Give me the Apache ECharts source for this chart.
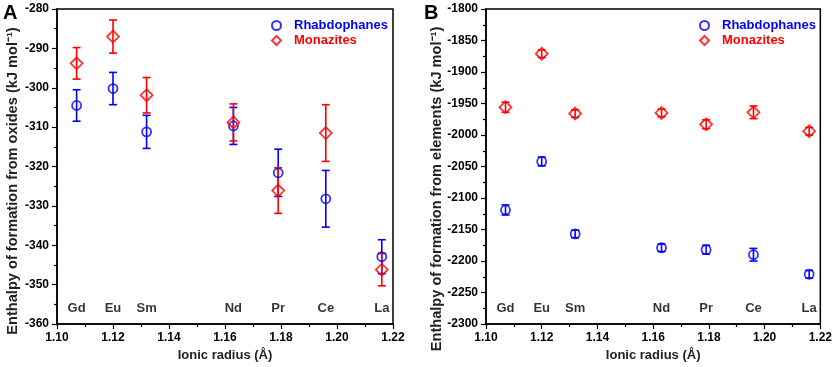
<!DOCTYPE html>
<html>
<head>
<meta charset="utf-8">
<script src="https://cdn.jsdelivr.net/npm/echarts@6/dist/echarts.min.js"></script>
<style>
  html, body { margin: 0; padding: 0; background: #fff; }
  #chart { width: 835px; height: 367px; }
</style>
</head>
<body>
<div id="chart"></div>
<script>
// Ionic radius (Å) and the lanthanide for each point
const elements = ['Gd', 'Eu', 'Sm', 'Nd', 'Pr', 'Ce', 'La'];
const radii = [1.107, 1.120, 1.132, 1.163, 1.179, 1.196, 1.216];

// Panel A: enthalpy of formation from oxides
const rhabOxides = [-304.5, -300.2, -311.2, -309.7, -321.6, -328.2, -342.9];
const rhabOxidesErr = [4.0, 4.1, 4.2, 4.7, 6.0, 7.2, 4.3];
const monOxides = [-293.8, -287.0, -301.9, -308.8, -326.1, -311.5, -346.2];
const monOxidesErr = [4.0, 4.2, 4.5, 4.7, 5.8, 7.2, 4.1];

// Panel B: enthalpy of formation from elements
const rhabElements = [-2119, -2042, -2157, -2179, -2182, -2190, -2221];
const rhabElementsErr = [8, 7, 6, 6, 7, 10, 6];
const monElements = [-1956, -1871, -1966, -1965, -1983, -1964, -1994];
const monElementsErr = [8, 6, 6, 6, 7, 10, 6];

// tick labels
const xTicks = [1.10, 1.12, 1.14, 1.16, 1.18, 1.20, 1.22];

const BLUE = '#0000ff';
const RED = '#ff0000';
const FONT = '"Liberation Sans", Arial, sans-serif';

const chart = echarts.init(document.getElementById('chart'));

const pts = (vals) => vals.map((v, i) => [radii[i], v]);
const bars = (vals, err) => vals.map((v, i) => [radii[i], v - err[i], v + err[i]]);
const names = (level) => elements.map((el, i) => ({ value: [radii[i], level], name: el }));

// vertical error bar with caps
const renderErr = (params, api) => {
  const x = api.value(0);
  const lo = api.coord([x, api.value(1)]);
  const hi = api.coord([x, api.value(2)]);
  const cap = 4;
  const style = { stroke: api.visual('color'), lineWidth: 1.6 };
  return {
    type: 'group',
    children: [
      { type: 'line', shape: { x1: lo[0], y1: lo[1], x2: hi[0], y2: hi[1] }, style },
      { type: 'line', shape: { x1: lo[0] - cap, y1: lo[1], x2: lo[0] + cap, y2: lo[1] }, style },
      { type: 'line', shape: { x1: hi[0] - cap, y1: hi[1], x2: hi[0] + cap, y2: hi[1] }, style },
    ],
  };
};

const xAxisFor = (gridIndex) => ({
  type: 'value',
  gridIndex,
  min: 1.10,
  max: 1.22,
  interval: 0.02,
  name: 'Ionic radius (Å)',
  nameLocation: 'middle',
  nameGap: 24,
  nameTextStyle: { fontFamily: FONT, fontWeight: 'bold', fontSize: 13, color: '#222' },
  axisLine: { lineStyle: { color: '#000', width: 1.5 } },
  axisTick: { length: 5, lineStyle: { color: '#000', width: 1.2 } },
  minorTick: { show: true, splitNumber: 2, length: 3, lineStyle: { color: '#000', width: 1.2 } },
  splitLine: { show: false },
  axisLabel: {
    margin: 8,
    fontFamily: FONT, fontWeight: 'bold', fontSize: 12, color: '#000',
    formatter: (v) => xTicks.find((t) => Math.abs(t - v) < 1e-6).toFixed(2),
  },
});

const yAxisFor = (gridIndex, min, max, interval) => ({
  type: 'value',
  gridIndex,
  min, max, interval,
  axisLine: { show: true, lineStyle: { color: '#000', width: 1.5 } },
  axisTick: { length: 5, lineStyle: { color: '#000', width: 1.2 } },
  minorTick: { show: true, splitNumber: 2, length: 3, lineStyle: { color: '#000', width: 1.2 } },
  splitLine: { show: false },
  axisLabel: {
    margin: 8, fontFamily: FONT, fontWeight: 'bold', fontSize: 12, color: '#000',
    formatter: (v) => String(v),
  },
});

// rotated y-axis title, centred on (x, y)
const yTitle = (text, x, y) => ({
  type: 'text', x, y, rotation: Math.PI / 2,
  style: {
    text, fontFamily: FONT, fontWeight: 'bold', fontSize: 14.6, fill: '#222',
    textAlign: 'center', textVerticalAlign: 'middle',
  },
});

const markerSeries = (name, idx, symbol, size, color, data) => ({
  name, type: 'scatter', xAxisIndex: idx, yAxisIndex: idx,
  symbol, symbolSize: size, data, z: 3,
  itemStyle: { color: 'rgba(0,0,0,0)', borderColor: color, borderWidth: 1.8 },
  emphasis: { disabled: true },
});

const errSeries = (idx, color, data) => ({
  name: 'err', type: 'custom', xAxisIndex: idx, yAxisIndex: idx,
  renderItem: renderErr, data, z: 2,
  itemStyle: { color },
  encode: { x: 0, y: [1, 2] },
});

const labelSeries = (idx, level) => ({
  name: 'labels', type: 'scatter', xAxisIndex: idx, yAxisIndex: idx,
  symbolSize: 0, data: names(level), silent: true,
  label: {
    show: true, position: 'inside', formatter: (p) => p.name,
    fontFamily: FONT, fontWeight: 'bold', fontSize: 13, color: '#000',
  },
});

const legendFor = (left) => ({
  orient: 'vertical',
  left, top: 14,
  itemWidth: 9, itemHeight: 9, itemGap: 2,
  textStyle: { fontFamily: FONT, fontWeight: 'bold', fontSize: 13, lineHeight: 13, padding: [0, 0, 0, 8] },
  data: [
    { name: 'Rhabdophanes', textStyle: { color: BLUE } },
    { name: 'Monazites', textStyle: { color: RED } },
  ],
});

chart.setOption({
  animation: false,
  backgroundColor: '#fff',
  grid: [
    { left: 57, top: 9, width: 336, height: 315, show: true, borderColor: '#000', borderWidth: 1.5 },
    { left: 486, top: 9, width: 335, height: 315, show: true, borderColor: '#000', borderWidth: 1.5 },
  ],
  legend: [legendFor(266), legendFor(694)],
  graphic: [
    { type: 'text', left: 3, top: 3, style: { text: 'A', fontFamily: FONT, fontWeight: 'bold', fontSize: 20, fill: '#000' } },
    { type: 'text', left: 424, top: 3, style: { text: 'B', fontFamily: FONT, fontWeight: 'bold', fontSize: 20, fill: '#000' } },
    yTitle('Enthalpy of formation from oxides (kJ mol⁻¹)', 13, 181),
    yTitle('Enthalpy of formation from elements (kJ mol⁻¹)', 437, 189),
  ],
  xAxis: [xAxisFor(0), xAxisFor(1)],
  yAxis: [
    yAxisFor(0, -360, -280, 10),
    yAxisFor(1, -2300, -1800, 50),
  ],
  series: [
    errSeries(0, BLUE, bars(rhabOxides, rhabOxidesErr)),
    errSeries(0, RED, bars(monOxides, monOxidesErr)),
    markerSeries('Rhabdophanes', 0, 'circle', 9, BLUE, pts(rhabOxides)),
    markerSeries('Monazites', 0, 'diamond', 12, RED, pts(monOxides)),
    labelSeries(0, -356),
    errSeries(1, BLUE, bars(rhabElements, rhabElementsErr)),
    errSeries(1, RED, bars(monElements, monElementsErr)),
    markerSeries('Rhabdophanes', 1, 'circle', 9, BLUE, pts(rhabElements)),
    markerSeries('Monazites', 1, 'diamond', 12, RED, pts(monElements)),
    labelSeries(1, -2276),
  ],
});
</script>
</body>
</html>
